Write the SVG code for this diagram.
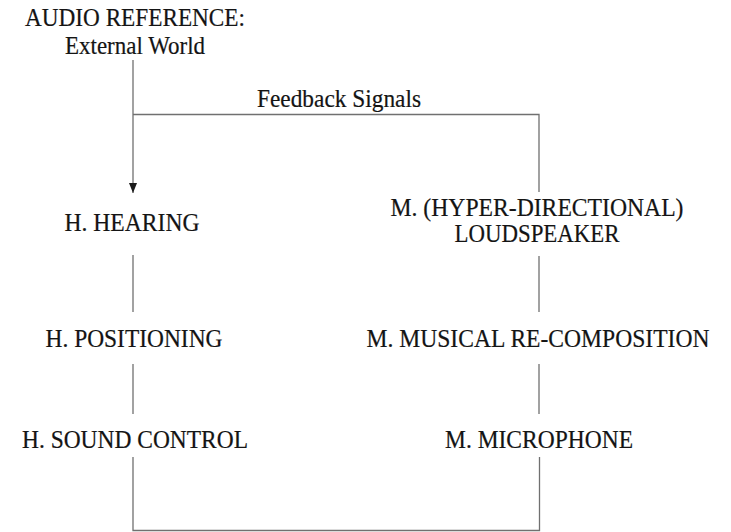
<svg xmlns="http://www.w3.org/2000/svg" width="731" height="532" viewBox="0 0 731 532">
<style>
text{font-family:'Liberation Serif','Times New Roman',Times,serif;font-size:24.5px;fill:#141414;stroke:#141414;stroke-width:0.2;text-anchor:middle}
.c{stroke:#707070;stroke-width:1.3;fill:none}
</style>
<defs>
<marker id="ah" viewBox="0 0 10 10" refX="10" refY="5" markerWidth="10" markerHeight="8" markerUnits="userSpaceOnUse" orient="auto" preserveAspectRatio="none">
<path d="M0,0 L10,5 L0,10 z" fill="#1a1a1a"/>
</marker>
</defs>
<rect width="731" height="532" fill="#fff"/>
<g id="connectors">
<path class="c" d="M133,60 V193" marker-end="url(#ah)"/>
<path class="c" d="M133,114.5 H539 V192"/>
<path class="c" d="M133,255 V312"/>
<path class="c" d="M539,256 V312"/>
<path class="c" d="M133,364 V414"/>
<path class="c" d="M539,364 V414"/>
<path class="c" d="M133,457 V530.5 H539.5 V457"/>
</g>
<g id="audio-reference">
<text x="135" y="26" textLength="220" lengthAdjust="spacingAndGlyphs">AUDIO REFERENCE:</text>
<text x="135" y="54" textLength="140" lengthAdjust="spacingAndGlyphs">External World</text>
</g>
<g id="feedback-label">
<text x="339" y="107" textLength="164" lengthAdjust="spacingAndGlyphs">Feedback Signals</text>
</g>
<g id="h-hearing"><text x="132" y="231" textLength="135" lengthAdjust="spacingAndGlyphs">H. HEARING</text></g>
<g id="m-loudspeaker">
<text x="537" y="216" textLength="293" lengthAdjust="spacingAndGlyphs">M. (HYPER-DIRECTIONAL)</text>
<text x="537" y="242" textLength="165" lengthAdjust="spacingAndGlyphs">LOUDSPEAKER</text>
</g>
<g id="h-positioning"><text x="134" y="347" textLength="177" lengthAdjust="spacingAndGlyphs">H. POSITIONING</text></g>
<g id="m-recomposition"><text x="538" y="347" textLength="343" lengthAdjust="spacingAndGlyphs">M. MUSICAL RE-COMPOSITION</text></g>
<g id="h-sound-control"><text x="135" y="448" textLength="226" lengthAdjust="spacingAndGlyphs">H. SOUND CONTROL</text></g>
<g id="m-microphone"><text x="539" y="448" textLength="188" lengthAdjust="spacingAndGlyphs">M. MICROPHONE</text></g>
</svg>
